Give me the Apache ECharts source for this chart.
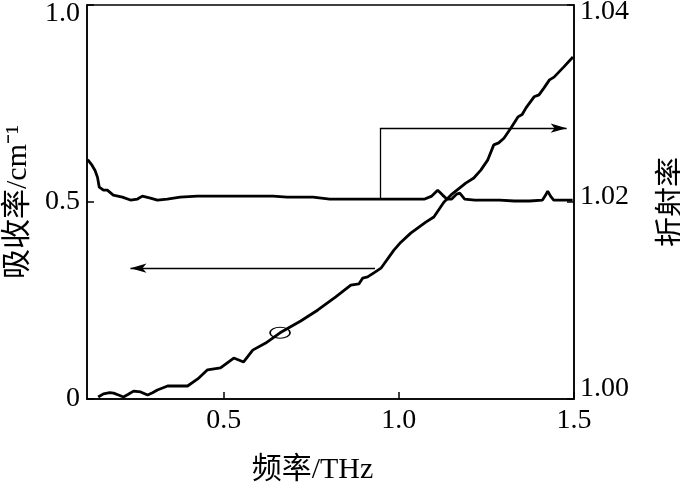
<!DOCTYPE html>
<html>
<head>
<meta charset="utf-8">
<script src="https://cdn.jsdelivr.net/npm/echarts@6/dist/echarts.min.js"></script>
<style>html,body{margin:0;padding:0;background:#fff}#c{width:680px;height:490px}</style>
</head>
<body>
<div id="c"></div>
<script>
// ---- data ----
const absFreq = [0.142,0.157,0.175,0.186,0.200,0.214,0.228,0.243,0.263,0.283,0.297,0.311,0.340,0.370,0.397,0.426,0.454,0.491,0.529,0.557,0.583,0.620,0.661,0.720,0.769,0.820,0.863,0.886,0.897,0.911,0.932,0.949,0.986,1.006,1.034,1.077,1.100,1.129,1.149,1.191,1.214,1.234,1.254,1.271,1.285,1.300,1.320,1.340,1.352,1.363,1.386,1.400,1.414,1.430,1.443,1.471,1.497];
const absorption = [0.005,0.013,0.016,0.015,0.010,0.005,0.012,0.020,0.018,0.010,0.016,0.023,0.033,0.033,0.033,0.051,0.074,0.079,0.104,0.094,0.124,0.142,0.168,0.198,0.226,0.259,0.289,0.292,0.307,0.310,0.322,0.332,0.378,0.398,0.421,0.449,0.462,0.500,0.518,0.548,0.561,0.581,0.607,0.645,0.650,0.662,0.688,0.716,0.722,0.739,0.767,0.772,0.789,0.810,0.817,0.843,0.868];

const refFreq = [0.112,0.123,0.133,0.140,0.145,0.157,0.168,0.185,0.211,0.234,0.254,0.268,0.291,0.311,0.339,0.376,0.425,0.519,0.641,0.681,0.755,0.803,0.946,1.074,1.094,1.111,1.125,1.137,1.151,1.165,1.174,1.188,1.217,1.288,1.330,1.373,1.410,1.419,1.425,1.433,1.442,1.496];
const refractive = [1.0243,1.0238,1.0232,1.0225,1.0215,1.0212,1.0212,1.0207,1.0205,1.0202,1.0203,1.0206,1.0204,1.0202,1.0203,1.0205,1.0206,1.0206,1.0206,1.0205,1.0205,1.0203,1.0203,1.0203,1.0206,1.0212,1.0207,1.0203,1.0203,1.0208,1.0209,1.0203,1.0202,1.0202,1.0201,1.0201,1.0202,1.0207,1.0211,1.0206,1.0202,1.0202];

const xTicks = [0.5, 1.0, 1.5];
const leftTicks = [0, 0.5, 1.0];
const rightTicks = [1.00, 1.02, 1.04];

// annotations (data coordinates)
const leftArrow = [[0.932, 0.332], [0.234, 0.332]];          // left axis units
const rightArrow = [[0.946, 1.0204], [0.946, 1.0275], [1.479, 1.0275]]; // right axis units
const ellipseAt = [0.661, 0.168];

// ---- chart ----
const FONT = '"Liberation Serif", "Noto Sans CJK SC", serif';
const zip = (a, b) => a.map((v, i) => [v, b[i]]);
const chart = echarts.init(document.getElementById('c'));
const arrowLine = {lineStyle: {color: '#000', width: 1.3, type: 'solid'}};

chart.setOption({
  animation: false,
  backgroundColor: '#fff',
  grid: {left: 87, right: 106, top: 5, bottom: 91, show: true, borderColor: '#000', borderWidth: 1.5,
         containLabel: false, outerBoundsMode: 'none'},
  xAxis: {
    type: 'value', min: 0.11, max: 1.5,
    axisLine: {show: true, onZero: false, lineStyle: {color: '#000', width: 1.5}},
    axisTick: {show: true, inside: true, length: 7, customValues: xTicks, lineStyle: {color: '#000', width: 1.5}},
    axisLabel: {customValues: xTicks, formatter: v => v.toFixed(1), color: '#000', fontFamily: FONT, fontSize: 28, margin: 8},
    splitLine: {show: false},
    name: '频率/THz', nameLocation: 'middle', nameGap: 56,
    nameTextStyle: {color: '#000', fontFamily: FONT, fontSize: 30, padding: [0, 36, 0, 0]}
  },
  yAxis: [{
    type: 'value', min: 0, max: 1, interval: 0.5,
    axisLine: {show: true, lineStyle: {color: '#000', width: 1.5}},
    axisTick: {show: true, inside: true, length: 7, lineStyle: {color: '#000', width: 1.5}},
    axisLabel: {
      color: '#000', fontFamily: FONT, fontSize: 28, margin: 7,
      formatter: v => v === 0 ? '0' : (v === 1 ? '{d|1.0}' : v.toFixed(1)),
      rich: {d: {fontFamily: FONT, fontSize: 28, color: '#000', padding: [18, 0, 0, 0]}}
    },
    splitLine: {show: false},
    name: '吸收率/cm⁻¹', nameLocation: 'middle', nameGap: 54, nameRotate: 90,
    nameTextStyle: {color: '#000', fontFamily: FONT, fontSize: 30}
  }, {
    type: 'value', min: 1.00, max: 1.04, interval: 0.02, position: 'right',
    axisLine: {show: true, lineStyle: {color: '#000', width: 1.5}},
    axisTick: {show: true, inside: true, length: 7, lineStyle: {color: '#000', width: 1.5}},
    axisLabel: {
      color: '#000', fontFamily: FONT, fontSize: 28, margin: 6,
      formatter: v => {
        const s = v.toFixed(2);
        if (Math.abs(v - 1.00) < 1e-6) return '{a|' + s + '}';
        if (Math.abs(v - 1.02) < 1e-6) return '{b|' + s + '}';
        return '{c|' + s + '}';
      },
      rich: {
        a: {fontFamily: FONT, fontSize: 28, color: '#000', padding: [0, 0, 20, 0]},
        b: {fontFamily: FONT, fontSize: 28, color: '#000', padding: [0, 0, 10, 0]},
        c: {fontFamily: FONT, fontSize: 28, color: '#000', padding: [14, 0, 0, 0]}
      }
    },
    splitLine: {show: false},
    name: '折射率', nameLocation: 'middle', nameGap: 83, nameRotate: 90,
    nameTextStyle: {color: '#000', fontFamily: FONT, fontSize: 30}
  }],
  series: [{
    name: 'absorption', type: 'line', yAxisIndex: 0, data: zip(absFreq, absorption),
    symbol: 'none', smooth: false, lineStyle: {color: '#000', width: 2.8}, silent: true,
    markLine: Object.assign({silent: true, label: {show: false}, symbol: ['none', 'none'],
      data: [[{coord: leftArrow[0], symbol: 'none'}, {coord: leftArrow[1], symbol: 'arrow', symbolSize: [7, 16]}]]}, arrowLine),
    markPoint: {
      silent: true, symbol: 'circle', symbolSize: [20, 11], label: {show: false},
      itemStyle: {color: 'rgba(0,0,0,0)', borderColor: '#000', borderWidth: 1.3},
      data: [{coord: ellipseAt}]
    }
  }, {
    name: 'refractive', type: 'line', yAxisIndex: 1, data: zip(refFreq, refractive),
    symbol: 'none', smooth: false, lineStyle: {color: '#000', width: 2.8}, silent: true,
    markLine: Object.assign({silent: true, label: {show: false}, symbol: ['none', 'none'],
      data: [
        [{coord: rightArrow[0], symbol: 'none'}, {coord: rightArrow[1], symbol: 'none'}],
        [{coord: rightArrow[1], symbol: 'none'}, {coord: rightArrow[2], symbol: 'arrow', symbolSize: [7, 16]}]
      ]}, arrowLine)
  }]
});
</script>
</body>
</html>
